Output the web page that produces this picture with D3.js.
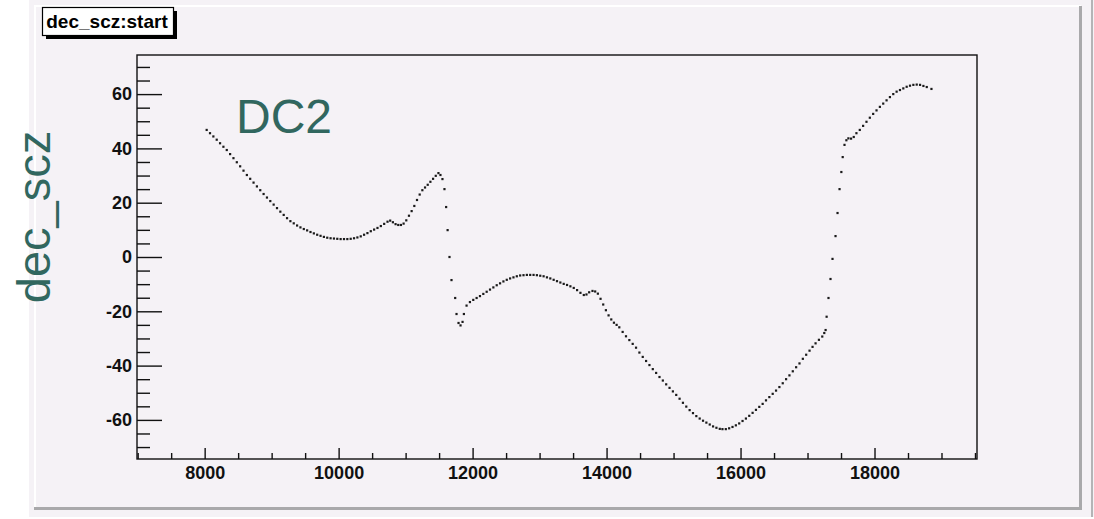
<!DOCTYPE html>
<html>
<head>
<meta charset="utf-8">
<script src="https://cdn.jsdelivr.net/npm/d3@7"></script>
<style>
  html, body { margin: 0; padding: 0; background: #ffffff; }
  svg { display: block; }
  text { font-family: "Liberation Sans", Arial, Helvetica, sans-serif; }
</style>
</head>
<body>
<svg id="chart" width="1094" height="519"></svg>
<script>
'use strict';

// start time (x) of each sample
const startTimes = [
  8030, 8080, 8130, 8180, 8230, 8280, 8330, 8380, 8430, 8480, 8530, 8580, 8630, 8680, 8730, 8780,
  8830, 8880, 8930, 8980, 9030, 9080, 9130, 9180, 9230, 9280, 9330, 9380, 9430, 9480, 9530, 9580,
  9630, 9680, 9730, 9780, 9830, 9880, 9930, 9980, 10030, 10080, 10130, 10180, 10230, 10280, 10330, 10380,
  10430, 10480, 10530, 10580, 10630, 10680, 10730, 10770, 10810, 10850, 10890, 10930, 10970, 11010, 11050, 11090,
  11130, 11170, 11210, 11250, 11290, 11330, 11370, 11410, 11450, 11490, 11520, 11550, 11580, 11605, 11627, 11655,
  11685, 11740, 11760, 11790, 11820, 11850, 11870, 11910, 11960, 12010, 12060, 12110, 12160, 12210, 12260, 12310,
  12360, 12410, 12460, 12510, 12560, 12610, 12660, 12710, 12760, 12810, 12860, 12910, 12960, 13010, 13060, 13110,
  13160, 13210, 13260, 13310, 13360, 13410, 13460, 13510, 13560, 13610, 13660, 13700, 13740, 13790, 13830, 13870,
  13910, 13950, 13990, 14030, 14070, 14110, 14150, 14190, 14240, 14290, 14340, 14390, 14440, 14490, 14540, 14590,
  14640, 14690, 14740, 14790, 14840, 14890, 14940, 14990, 15040, 15090, 15140, 15190, 15240, 15290, 15340, 15390,
  15440, 15490, 15540, 15590, 15640, 15690, 15730, 15780, 15830, 15880, 15930, 15980, 16030, 16080, 16130, 16180,
  16230, 16280, 16330, 16380, 16430, 16480, 16530, 16580, 16630, 16680, 16730, 16780, 16830, 16880, 16930, 16980,
  17030, 17075, 17120, 17170, 17220, 17250, 17270, 17285, 17313, 17343, 17373, 17418, 17448, 17478, 17505, 17525,
  17552, 17580, 17610, 17650, 17690, 17730, 17780, 17830, 17880, 17930, 17980, 18030, 18080, 18130, 18180, 18230,
  18280, 18330, 18380, 18430, 18480, 18530, 18580, 18630, 18680, 18730, 18780, 18850
];

// dec_scz value of each sample
const decValues = [
  46.8, 45.6, 44.4, 43.2, 41.9, 40.6, 39.4, 37.9, 36.4, 34.9, 33.4, 31.8, 30.2, 28.8, 27.4, 26.0,
  24.6, 23.2, 21.9, 20.6, 19.3, 18.0, 16.7, 15.5, 14.3, 13.2, 12.4, 11.6, 10.9, 10.3, 9.8, 9.2,
  8.7, 8.2, 7.8, 7.4, 7.1, 6.9, 6.8, 6.7, 6.6, 6.6, 6.6, 6.7, 6.9, 7.2, 7.6, 8.2,
  8.8, 9.5, 10.1, 10.7, 11.4, 12.2, 13.0, 13.4, 12.8, 12.1, 11.8, 11.8, 12.3, 13.5, 15.2, 16.9,
  18.8, 21.0, 23.0, 24.6, 25.6, 26.6, 27.7, 28.8, 29.9, 30.9, 30.2, 28.7, 25.0, 18.4, 9.9, 0.0,
  -8.5, -15.1, -21.0, -24.3, -25.2, -23.9, -21.0, -17.9, -16.6, -15.8, -15.1, -14.4, -13.6, -12.8, -12.0, -11.2,
  -10.4, -9.7, -9.0, -8.4, -7.9, -7.5, -7.1, -6.8, -6.7, -6.6, -6.6, -6.6, -6.7, -6.9, -7.1, -7.5,
  -7.9, -8.4, -8.9, -9.4, -9.9, -10.3, -10.8, -11.4, -12.2, -13.2, -14.0, -13.8, -13.0, -12.5, -12.7, -13.5,
  -15.4, -17.5, -19.6, -21.5, -23.0, -24.2, -25.0, -25.9, -27.6, -29.2, -30.6, -32.0, -33.4, -35.2, -36.8, -38.3,
  -39.8, -41.3, -42.7, -44.2, -45.5, -46.9, -48.2, -49.5, -50.8, -52.2, -53.7, -55.1, -56.4, -57.5, -58.6, -59.5,
  -60.3, -61.0, -61.7, -62.4, -62.9, -63.3, -63.4, -63.4, -63.1, -62.6, -62.0, -61.3, -60.4, -59.5, -58.5, -57.4,
  -56.3, -55.2, -54.1, -52.8, -51.6, -50.4, -49.2, -47.9, -46.5, -45.0, -43.6, -42.1, -40.6, -39.2, -37.5, -36.0,
  -34.5, -33.1, -31.8, -30.5, -29.3, -28.0, -26.9, -22.0, -15.1, -8.1, -0.7, 7.7, 16.2, 25.0, 31.3, 36.8,
  41.3, 43.0, 43.7, 43.6, 44.2, 45.6, 46.8, 48.3, 49.8, 51.3, 52.7, 54.0, 55.3, 56.5, 57.7, 58.9,
  60.0, 60.9, 61.5, 62.1, 62.7, 63.1, 63.4, 63.5, 63.4, 63.0, 62.6, 61.9
];

const xTicks = [8000, 10000, 12000, 14000, 16000, 18000];
const yTicks = [-60, -40, -20, 0, 20, 40, 60];
const xDomain = [6990, 19530];
const yDomain = [-74.4, 74.4];

const svg = d3.select('#chart');
const teal = '#31675f';

// canvas background with its bevelled border
svg.append('rect')
   .attr('x', 29).attr('y', 0).attr('width', 1065).attr('height', 517)
   .attr('fill', '#f5f2f6');
svg.append('rect')
   .attr('x', 34).attr('y', 5).attr('width', 1047).attr('height', 2)
   .attr('fill', '#ffffff');
svg.append('rect')
   .attr('x', 34).attr('y', 5).attr('width', 2).attr('height', 503)
   .attr('fill', '#ffffff');
svg.append('rect')
   .attr('x', 1079).attr('y', 6).attr('width', 3).attr('height', 504)
   .attr('fill', '#a9a9ab');
svg.append('rect')
   .attr('x', 34).attr('y', 507).attr('width', 1048).attr('height', 3)
   .attr('fill', '#a9a9ab');
svg.append('rect')
   .attr('x', 1091).attr('y', 0).attr('width', 2).attr('height', 517)
   .attr('fill', '#b4b4b6');

const frame = { left: 137, top: 55, right: 977, bottom: 459 };

const x = d3.scaleLinear().domain(xDomain).range([frame.left, frame.right]);
const y = d3.scaleLinear().domain(yDomain).range([frame.bottom, frame.top]);

// minor ticks
const xMinor = d3.range(7000, 19501, 500).filter(v => !xTicks.includes(v));
const yMinor = d3.range(-70, 71, 5).filter(v => !yTicks.includes(v));

const xAxisMinor = d3.axisBottom(x).tickValues(xMinor).tickSize(-6).tickFormat('');
const yAxisMinor = d3.axisLeft(y).tickValues(yMinor).tickSize(-13).tickFormat('');

svg.append('g')
   .attr('transform', `translate(0, ${frame.bottom})`)
   .call(xAxisMinor)
   .call(g => g.select('.domain').remove());
svg.append('g')
   .attr('transform', `translate(${frame.left}, 0)`)
   .call(yAxisMinor)
   .call(g => g.select('.domain').remove());

// major ticks with labels (plain hyphen for negatives, as in the original)
const plain = d => String(d);
const xAxis = d3.axisBottom(x).tickValues(xTicks).tickSize(-11).tickPadding(7).tickFormat(plain);
const yAxis = d3.axisLeft(y).tickValues(yTicks).tickSize(-25).tickPadding(5).tickFormat(plain);

svg.append('g')
   .attr('transform', `translate(0, ${frame.bottom})`)
   .call(xAxis)
   .call(g => g.select('.domain').remove())
   .call(g => g.selectAll('text')
      .attr('font-size', 18).attr('font-weight', 'bold').attr('fill', '#111'));
svg.append('g')
   .attr('transform', `translate(${frame.left}, 0)`)
   .call(yAxis)
   .call(g => g.select('.domain').remove())
   .call(g => g.selectAll('text')
      .attr('font-size', 18).attr('font-weight', 'bold').attr('fill', '#111'));

svg.selectAll('.tick line').attr('stroke', '#111').attr('stroke-width', 1.4);

// plot frame
svg.append('rect')
   .attr('x', frame.left).attr('y', frame.top)
   .attr('width', frame.right - frame.left).attr('height', frame.bottom - frame.top)
   .attr('fill', 'none').attr('stroke', '#111').attr('stroke-width', 1.4);

// data points
const points = startTimes.map((t, i) => [t, decValues[i]]);
svg.append('g')
  .selectAll('rect')
  .data(points)
  .join('rect')
   .attr('x', d => x(d[0]) - 1.1)
   .attr('y', d => y(d[1]) - 1.1)
   .attr('width', 2.2)
   .attr('height', 2.2)
   .attr('fill', '#1a1a1a');

// title box with shadow
svg.append('rect')
   .attr('x', 46).attr('y', 11).attr('width', 131).attr('height', 28)
   .attr('fill', '#000');
svg.append('rect')
   .attr('x', 42.5).attr('y', 7.5).attr('width', 131).attr('height', 28)
   .attr('fill', '#ffffff').attr('stroke', '#000').attr('stroke-width', 1.2);
svg.append('text')
   .attr('x', 107).attr('y', 28)
   .attr('text-anchor', 'middle')
   .attr('font-size', 19).attr('font-weight', 'bold')
   .attr('fill', '#000')
   .text('dec_scz:start');

// y axis title
svg.append('text')
   .attr('transform', 'translate(50, 217) rotate(-90)')
   .attr('text-anchor', 'middle')
   .attr('font-size', 47)
   .attr('fill', teal)
   .text('dec_scz');

// pad label
svg.append('text')
   .attr('x', 236).attr('y', 133)
   .attr('font-size', 48)
   .attr('fill', teal)
   .text('DC2');
</script>
</body>
</html>
